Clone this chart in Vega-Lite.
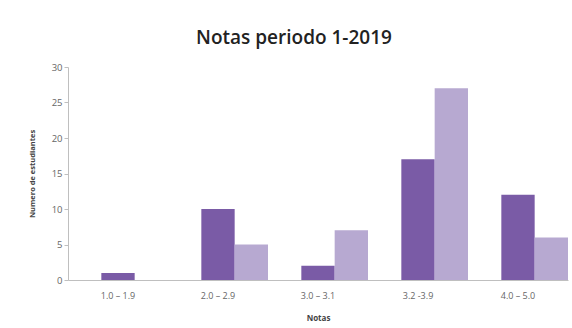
{
  "$schema": "https://vega.github.io/schema/vega-lite/v6.json",
  "width": 500,
  "height": 213,
  "autosize": {"type": "none"},
  "padding": {"left": 68, "top": 67, "right": 4, "bottom": 48},
  "background": "white",
  "title": {
    "text": "Notas periodo 1-2019",
    "font": "Open Sans",
    "fontSize": 19,
    "fontWeight": 600,
    "color": "#222222",
    "anchor": "middle",
    "dx": -24,
    "offset": 14
  },
  "data": {
    "values": [
      {"rango": "1.0 – 1.9", "serie": "Serie 1", "n": 1},
      {"rango": "1.0 – 1.9", "serie": "Serie 2", "n": 0},
      {"rango": "2.0 – 2.9", "serie": "Serie 1", "n": 10},
      {"rango": "2.0 – 2.9", "serie": "Serie 2", "n": 5},
      {"rango": "3.0 – 3.1", "serie": "Serie 1", "n": 2},
      {"rango": "3.0 – 3.1", "serie": "Serie 2", "n": 7},
      {"rango": "3.2 -3.9", "serie": "Serie 1", "n": 17},
      {"rango": "3.2 -3.9", "serie": "Serie 2", "n": 27},
      {"rango": "4.0 – 5.0", "serie": "Serie 1", "n": 12},
      {"rango": "4.0 – 5.0", "serie": "Serie 2", "n": 6}
    ]
  },
  "mark": {"type": "bar"},
  "encoding": {
    "x": {
      "field": "rango",
      "type": "nominal",
      "sort": null,
      "scale": {"paddingInner": 0, "paddingOuter": 0},
      "axis": {
        "title": "Notas",
        "titleFont": "Open Sans",
        "titleFontSize": 8,
        "titleFontWeight": "bold",
        "titleColor": "#444444",
        "titlePadding": 14,
        "labelAngle": 0,
        "labelFont": "Open Sans",
        "labelFontSize": 9,
        "labelColor": "#666666",
        "labelPadding": 11,
        "ticks": false,
        "domainColor": "#bfbfbf",
        "grid": false
      }
    },
    "xOffset": {
      "field": "serie",
      "type": "nominal",
      "scale": {"domain": ["_", "Serie 1", "Serie 2"], "paddingInner": 0, "paddingOuter": 0}
    },
    "y": {
      "field": "n",
      "type": "quantitative",
      "scale": {"domain": [0, 30], "nice": false},
      "axis": {
        "title": "Numero de estudiantes",
        "titleFont": "Open Sans",
        "titleFontSize": 7.5,
        "titleFontWeight": "bold",
        "titleColor": "#444444",
        "titlePadding": 15,
        "values": [0, 5, 10, 15, 20, 25, 30],
        "labelFont": "Open Sans",
        "labelFontSize": 9.5,
        "labelColor": "#666666",
        "tickSize": 4,
        "tickColor": "#bfbfbf",
        "domainColor": "#bfbfbf",
        "grid": false
      }
    },
    "color": {
      "field": "serie",
      "type": "nominal",
      "scale": {"domain": ["Serie 1", "Serie 2"], "range": ["#7a5ba6", "#b7a9d1"]},
      "legend": null
    }
  },
  "config": {"view": {"stroke": null}}
}
